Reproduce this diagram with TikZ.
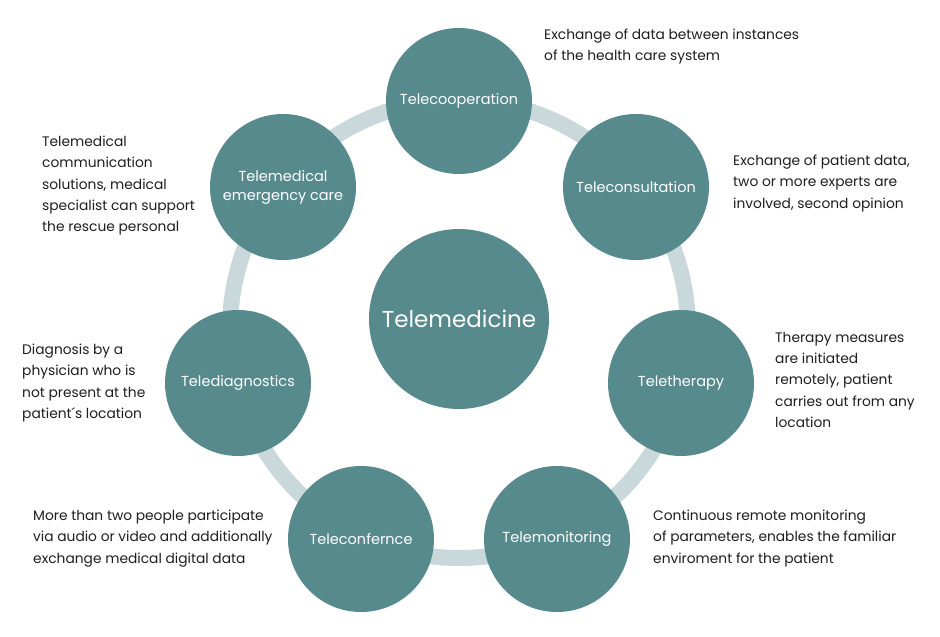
\documentclass[tikz,border=0pt]{standalone}
\usepackage{fontspec}
\setmainfont{Poppins}
\usepackage{xcolor}

\definecolor{diskteal}{RGB}{87,138,140}
\definecolor{ringgray}{RGB}{201,217,219}
\definecolor{notetext}{RGB}{30,30,30}

\tikzset{
  disk/.style={circle, fill=diskteal, minimum size=146pt, inner sep=0pt, text=white,
    font=\fontsize{14.5}{19}\selectfont, align=center},
  hubdisk/.style={disk, minimum size=180pt, font=\fontsize{23}{28}\selectfont},
  note/.style={anchor=north west, inner sep=0pt, align=left, text=notetext,
    font=\fontsize{13.8}{21.2}\selectfont}
}

\begin{document}
\begin{tikzpicture}[x=1pt,y=1pt,yscale=-1,xscale=1]
\useasboundingbox (0,0) rectangle (940,637);

%Shape: Ring
\draw [ringgray, line width=16pt] (459,329) circle (229);

%Shape: Centre disk
\node [hubdisk] (telemed) at (459,319) {Telemedicine};

%Shape: Outer disks
\node [disk] (coop)    at (459,101) {Telecooperation};
\node [disk] (consult) at (636,187) {Teleconsultation};
\node [disk] (therapy) at (681,383) {Teletherapy};
\node [disk] (monitor) at (557,539) {Telemonitoring};
\node [disk] (confer)  at (361,539) {Teleconfernce};
\node [disk] (diagn)   at (238,383) {Telediagnostics};
\node [disk] (emerg)   at (283,187) {Telemedical\\emergency care};

% Text Node
\node [note] (coopnote) at (544,29) {Exchange of data between instances\\of the health care system};
% Text Node
\node [note] (consultnote) at (733,155) {Exchange of patient data,\\two or more experts are\\involved, second opinion};
% Text Node
\node [note] (therapynote) at (775,332) {Therapy measures\\are initiated\\remotely, patient\\carries out from any\\location};
% Text Node
\node [note] (monitornote) at (653,510) {Continuous remote monitoring\\of parameters, enables the familiar\\enviroment for the patient};
% Text Node
\node [note] (confernote) at (33,510) {More than two people participate\\via audio or video and additionally\\exchange medical digital data};
% Text Node
\node [note] (diagnnote) at (22,344) {Diagnosis by a\\physician who is\\not present at the\\patient\textasciiacute s location};
% Text Node
\node [note] (emergnote) at (42,136) {Telemedical\\communication\\solutions, medical\\specialist can support\\the rescue personal};

\end{tikzpicture}
\end{document}
